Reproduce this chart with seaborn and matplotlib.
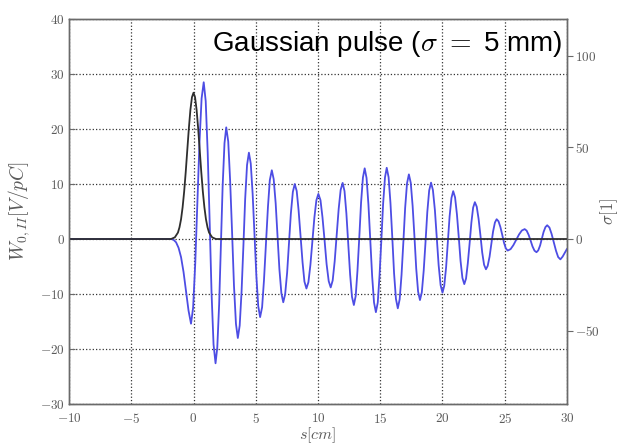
import matplotlib
matplotlib.use("Agg")
import matplotlib.pyplot as plt
from matplotlib.ticker import FuncFormatter
import seaborn as sns

# longitudinal wake W_0,II [V/pC]
s_wake = [-10.0, -1.8, -1.6, -1.4, -1.2, -1.0, -0.8, -0.6, -0.4, -0.2,
          -0.03, 0.14, 0.31, 0.48, 0.65, 0.82,
          0.98, 1.14, 1.30, 1.45, 1.61, 1.77,
          1.91, 2.06, 2.20, 2.34, 2.49, 2.63,
          2.79, 2.94, 3.10, 3.25, 3.41, 3.56,
          3.71, 3.86, 4.01, 4.15, 4.30, 4.45,
          4.60, 4.75, 4.90, 5.05, 5.20, 5.35,
          5.51, 5.66, 5.82, 5.98, 6.13, 6.29,
          6.44, 6.60, 6.75, 6.90, 7.06, 7.21,
          7.36, 7.52, 7.67, 7.82, 7.98, 8.13,
          8.29, 8.44, 8.60, 8.76, 8.91, 9.07,
          9.23, 9.39, 9.55, 9.71, 9.87, 10.03,
          10.20, 10.36, 10.53, 10.69, 10.86, 11.02,
          11.18, 11.34, 11.50, 11.66, 11.82, 11.98,
          12.13, 12.28, 12.43, 12.58, 12.73, 12.88,
          13.03, 13.17, 13.32, 13.46, 13.61, 13.75,
          13.90, 14.05, 14.20, 14.35, 14.50, 14.65,
          14.80, 14.94, 15.09, 15.23, 15.38, 15.52,
          15.67, 15.82, 15.97, 16.11, 16.26, 16.41,
          16.56, 16.71, 16.86, 17.00, 17.15, 17.30,
          17.45, 17.60, 17.75, 17.89, 18.04, 18.19,
          18.34, 18.49, 18.64, 18.78, 18.93, 19.08,
          19.23, 19.39, 19.54, 19.69, 19.85, 20.00,
          20.14, 20.29, 20.43, 20.57, 20.72, 20.86,
          21.01, 21.16, 21.31, 21.45, 21.60, 21.75,
          21.89, 22.03, 22.18, 22.32, 22.46, 22.60,
          22.75, 22.90, 23.05, 23.19, 23.34, 23.49,
          23.63, 23.78, 23.92, 24.06, 24.21, 24.35,
          24.50, 24.65, 24.80, 24.94, 25.09, 25.24,
          25.47, 25.69, 25.92, 26.15, 26.37, 26.60,
          26.76, 26.92, 27.08, 27.23, 27.39, 27.55,
          27.69, 27.84, 27.98, 28.12, 28.27, 28.41,
          28.59, 28.76, 28.94, 29.12, 29.29, 29.47,
          29.65, 29.82, 30.0]
w_wake = [0.0, 0.0, -0.15, -0.6, -1.6, -3.3, -6.0, -9.5, -13.0, -15.4,
          -12.46, -4.43, 6.55, 17.53, 25.56, 28.5,
          25.08, 15.73, 2.95, -9.83, -19.18, -22.6,
          -19.73, -11.88, -1.15, 9.58, 17.43, 20.3,
          17.73, 10.73, 1.15, -8.43, -15.43, -18.0,
          -15.74, -9.58, -1.15, 7.28, 13.44, 15.7,
          13.70, 8.23, 0.75, -6.73, -12.20, -14.2,
          -12.41, -7.53, -0.85, 5.83, 10.71, 12.5,
          10.89, 6.5, 0.5, -5.5, -9.89, -11.5,
          -10.06, -6.13, -0.75, 4.63, 8.56, 10.0,
          8.73, 5.25, 0.5, -4.25, -7.73, -9.0,
          -7.85, -4.7, -0.4, 3.9, 7.05, 8.2,
          7.06, 3.95, -0.3, -4.55, -7.66, -8.8,
          -7.53, -4.05, 0.7, 5.45, 8.93, 10.2,
          8.71, 4.65, -0.9, -6.45, -10.51, -12.0,
          -10.33, -5.78, 0.43, 6.64, 11.19, 12.85,
          11.09, 6.31, -0.23, -6.77, -11.55, -13.3,
          -11.55, -6.74, -0.18, 6.38, 11.19, 12.95,
          11.24, 6.57, 0.18, -6.21, -10.88, -12.6,
          -10.97, -6.52, -0.43, 5.66, 10.11, 11.75,
          10.22, 6.04, 0.33, -5.38, -9.56, -11.1,
          -9.68, -5.77, -0.43, 4.91, 8.82, 10.25,
          8.91, 5.25, 0.25, -4.75, -8.41, -9.75,
          -8.52, -5.14, -0.53, 4.08, 7.46, 8.7,
          7.57, 4.48, 0.25, -3.98, -7.07, -8.2,
          -7.2, -4.48, -0.75, 2.98, 5.7, 6.7,
          5.88, 3.65, 0.6, -2.45, -4.68, -5.5,
          -4.89, -3.23, -0.95, 1.33, 2.99, 3.6,
          3.22, 2.18, 0.75, -0.68, -1.72, -2.1,
          -1.84, -1.13, -0.15, 0.83, 1.54, 1.8,
          1.52, 0.75, -0.3, -1.35, -2.12, -2.4,
          -2.07, -1.18, 0.05, 1.28, 2.17, 2.5,
          2.08, 0.95, -0.6, -2.15, -3.28, -3.7,
          -3.2, -2.5, -1.8]

# bunch profile (right axis)
s_bunch = [-10.0, -1.8, -1.5, -1.25, -1.125, -1.0, -0.875, -0.75, -0.625, -0.5,
           -0.375, -0.25, -0.125, 0.0, 0.125, 0.25, 0.375, 0.5, 0.625, 0.75,
           0.875, 1.0, 1.125, 1.25, 1.5, 1.8, 30.0]
rho_bunch = [0.0, 0.0, 0.9, 3.5, 6.4, 10.8, 17.3, 25.9, 36.5, 48.4,
             60.2, 70.4, 77.3, 79.8, 77.3, 70.4, 60.2, 48.4, 36.5, 25.9,
             17.3, 10.8, 6.4, 3.5, 0.9, 0.0, 0.0]

x_ticks = [-10, -5, 0, 5, 10, 15, 20, 25, 30]
y_ticks = [-30, -20, -10, 0, 10, 20, 30, 40]
y2_ticks = [-50, 0, 50, 100]

sns.set_style("white")
plt.rcParams["mathtext.fontset"] = "cm"
plt.rcParams["font.family"] = ["DejaVu Serif"]

tick_col = "#5a5a5a"
spine_col = "#6a6a6a"
math_fmt = FuncFormatter(lambda v, p: f"${v:g}$")

fig = plt.figure(figsize=(6.2, 4.45), dpi=100)
ax = fig.add_axes([0.1113, 0.0921, 0.8032, 0.8652])

sns.lineplot(x=s_wake, y=w_wake, ax=ax, color="#4d4de4", linewidth=1.3,
             sort=False, estimator=None)
ax.set_xlim(-10, 30)
ax.set_ylim(-30, 40)
ax.set_xticks(x_ticks)
ax.set_yticks(y_ticks)
ax.xaxis.set_major_formatter(math_fmt)
ax.yaxis.set_major_formatter(math_fmt)
ax.grid(True, linestyle=":", color="#333333", linewidth=0.9)
ax.tick_params(direction="in", length=4, colors=spine_col, labelcolor=tick_col,
               labelsize=9.5)
ax.tick_params(axis="x", pad=5.5)
ax.tick_params(axis="y", pad=3)
ax.set_xlabel(r"$s[cm]$", fontsize=11.5, color=tick_col)
ax.xaxis.set_label_coords(0.5, -0.055)
ax.set_ylabel(r"$W_{0,II}[V/pC]$", fontsize=14, color=tick_col, labelpad=6)

ax2 = ax.twinx()
sns.lineplot(x=s_bunch, y=rho_bunch, ax=ax2, color="#2e2e2e", linewidth=1.3,
             sort=False, estimator=None)
ax2.set_ylim(-90, 120)
ax2.set_yticks(y2_ticks)
ax2.yaxis.set_major_formatter(math_fmt)
ax2.tick_params(direction="out", length=4, colors=spine_col, labelcolor=tick_col,
                labelsize=9.5, pad=2)
ax2.set_ylabel(r"$\sigma[1]$", fontsize=12, color=tick_col)
ax2.yaxis.set_label_coords(1.062, 0.5)

for a in (ax, ax2):
    for sp in a.spines.values():
        sp.set_color(spine_col)
        sp.set_linewidth(1.0)

ax.text(0.99, 0.975, r"Gaussian pulse ($\sigma\ =$ 5 mm)", transform=ax.transAxes,
        ha="right", va="top", fontsize=20, family=["Liberation Sans", "DejaVu Sans"],
        color="black", zorder=5)

fig.savefig("out.png", dpi=100)
